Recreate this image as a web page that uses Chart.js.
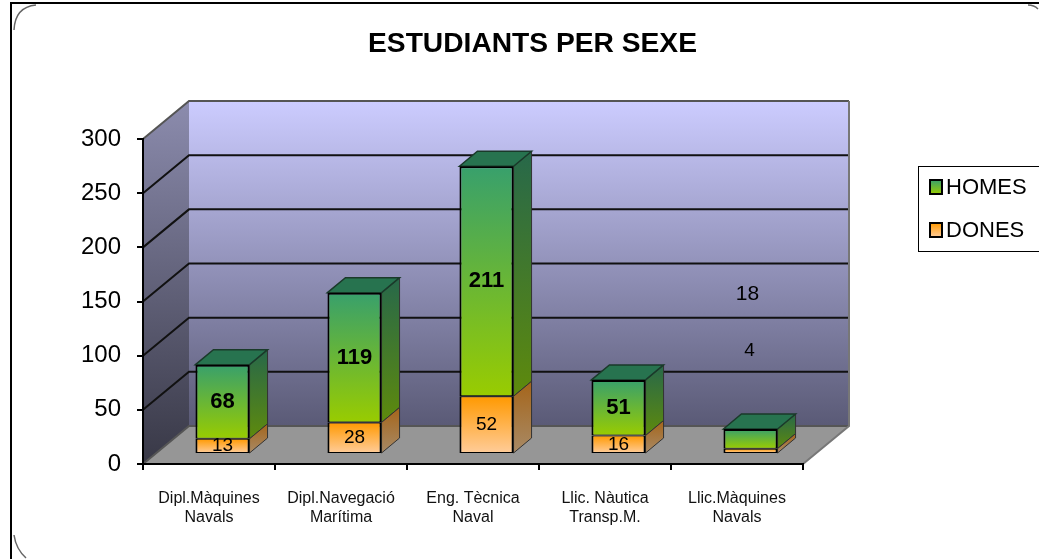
<!DOCTYPE html>
<html>
<head>
<meta charset="utf-8">
<title>Estudiants per sexe</title>
<script src="https://cdn.jsdelivr.net/npm/chart.js@4/dist/chart.umd.min.js"></script>
<style>
  html, body { margin: 0; padding: 0; background: #fff; }
  canvas { display: block; }
</style>
</head>
<body>
<canvas id="chart" width="1039" height="559"></canvas>
<script>
// Chart values
const categories = [
  ['Dipl.Màquines', 'Navals'],
  ['Dipl.Navegació', 'Marítima'],
  ['Eng. Tècnica', 'Naval'],
  ['Llic. Nàutica', 'Transp.M.'],
  ['Llic.Màquines', 'Navals']
];
const homes = [68, 119, 211, 51, 18];
const dones = [13, 28, 52, 16, 4];
const seriesNames = ['HOMES', 'DONES'];
const titleText = 'ESTUDIANTS PER SEXE';

// Fake 3D look
const FONT = '"Liberation Sans", Arial, sans-serif';
const WALL_DX = 46, WALL_DY = 38;     // depth of the whole plot box
const BAR_SHIFT_X = 13.5, BAR_SHIFT_Y = 11;  // bars stand inside the box
const BAR_DX = 18, BAR_DY = 15;       // depth of each bar
const BAR_AXIS_MAX = 298;             // bars sit nearer than the axis plane, so they read slightly taller

// the last category is too short for its labels, they float above it
const labelNudge = {
  HOMES: { 4: [-3, -145] },
  DONES: { 4: [-1, -100] }
};

function vGradient(ctx, y0, y1, top, bottom) {
  const g = ctx.createLinearGradient(0, y0, 0, y1);
  g.addColorStop(0, top);
  g.addColorStop(1, bottom);
  return g;
}

function poly(ctx, pts, fill, stroke, lw) {
  ctx.beginPath();
  pts.forEach((p, i) => i ? ctx.lineTo(p[0], p[1]) : ctx.moveTo(p[0], p[1]));
  ctx.closePath();
  ctx.fillStyle = fill;
  ctx.fill();
  if (stroke) {
    ctx.strokeStyle = stroke;
    ctx.lineWidth = lw;
    ctx.stroke();
  }
}

const frontColors = {
  HOMES: ['#38a06c', '#99cc00'],
  DONES: ['#ff9900', '#ffcc99']
};
const sideColors = {
  HOMES: ['#27684a', '#5e8a0c'],
  DONES: ['#a5651a', '#a88a66']
};

// Page frame with the rounded chart-area corners
const framePlugin = {
  id: 'frame',
  beforeDraw(chart) {
    const ctx = chart.ctx;
    ctx.save();
    ctx.fillStyle = '#000';
    ctx.fillRect(10, 2, 1029, 2);
    ctx.fillRect(10, 2, 2, 557);
    ctx.strokeStyle = '#666';
    ctx.lineWidth = 1.5;
    ctx.beginPath();
    ctx.moveTo(14, 30);
    ctx.quadraticCurveTo(15, 7, 36, 5);
    ctx.moveTo(14, 535);
    ctx.quadraticCurveTo(16, 549, 26, 558);
    ctx.moveTo(1028, 5);
    ctx.quadraticCurveTo(1034, 5, 1038, 9);
    ctx.stroke();
    ctx.restore();
  }
};

// Side wall, back wall and floor, placed from the axis scales
const wallsPlugin = {
  id: 'walls',
  beforeDraw(chart) {
    const ctx = chart.ctx;
    const y = chart.scales.y, x = chart.scales.x;
    const left = x.left, right = x.right;
    const top = y.getPixelForValue(300), bottom = y.getPixelForValue(0);
    const backL = left + WALL_DX, backR = right + WALL_DX;
    const backT = top - WALL_DY, backB = bottom - WALL_DY;
    ctx.save();
    poly(ctx, [[backL, backT], [backR, backT], [backR, backB], [backL, backB]],
      vGradient(ctx, backT, backB, '#ccccff', '#5a5a76'));
    poly(ctx, [[left, top], [backL, backT], [backL, backB], [left, bottom]],
      vGradient(ctx, backT, bottom, '#8c8cae', '#383846'));
    poly(ctx, [[left, bottom], [backL, backB], [backR, backB], [right, bottom]], '#969696');

    y.ticks.forEach(t => {
      const py = y.getPixelForValue(t.value);
      ctx.beginPath();
      ctx.moveTo(left, py);
      ctx.lineTo(backL, py - WALL_DY);
      ctx.lineTo(backR, py - WALL_DY);
      ctx.strokeStyle = t.value === 300 || t.value === 0 ? '#555' : '#111';
      ctx.lineWidth = 2;
      ctx.stroke();
    });
    ctx.beginPath();
    ctx.moveTo(backR, backT);
    ctx.lineTo(backR, backB);
    ctx.lineTo(right, bottom);
    ctx.strokeStyle = '#777';
    ctx.lineWidth = 2;
    ctx.stroke();
    ctx.restore();
  }
};

// Shifts the bars inside the box and adds the side and top faces
const barsPlugin = {
  id: 'bars3d',
  afterLayout(chart) {
    // centre of the title is not the centre of the plot
    chart.titleBlock.left += 131;
    chart.titleBlock.right += 131;
  },
  beforeDatasetDraw(chart, args) {
    const ctx = chart.ctx;
    const name = chart.data.datasets[args.index].label;
    ctx.save();
    ctx.translate(BAR_SHIFT_X, -BAR_SHIFT_Y);
    args.meta.data.forEach(bar => {
      const p = bar.getProps(['x', 'y', 'base', 'width']);
      const r = p.x + p.width / 2;
      const l = p.x - p.width / 2;
      poly(ctx, [[r, p.y], [r + BAR_DX, p.y - BAR_DY], [r + BAR_DX, p.base - BAR_DY], [r, p.base]],
        vGradient(ctx, p.y - BAR_DY, p.base, sideColors[name][0], sideColors[name][1]), '#333', 1);
      if (name === 'HOMES') {
        poly(ctx, [[l, p.y], [l + BAR_DX, p.y - BAR_DY], [r + BAR_DX, p.y - BAR_DY], [r, p.y]],
          '#27734f', '#1a3a2a', 1.5);
      }
    });
  },
  afterDatasetDraw(chart) {
    chart.ctx.restore();
  },
  afterDatasetsDraw(chart) {
    const ctx = chart.ctx;
    ctx.save();
    ctx.textAlign = 'center';
    ctx.textBaseline = 'middle';
    ctx.fillStyle = '#000';
    chart.data.datasets.forEach((ds, di) => {
      chart.getDatasetMeta(di).data.forEach((bar, i) => {
        const p = bar.getProps(['x', 'y', 'base']);
        const nudge = (labelNudge[ds.label] || {})[i] || [0, 0];
        const bold = ds.label === 'HOMES' && i < 4;
        ctx.font = (bold ? 'bold 22px ' : (ds.label === 'HOMES' ? '21px ' : '19px ')) + FONT;
        ctx.fillText(String(ds.data[i]),
          p.x + BAR_SHIFT_X + nudge[0],
          (p.y + p.base) / 2 - BAR_SHIFT_Y + nudge[1]);
      });
    });
    ctx.restore();
  }
};

// Legend box sits away from the plot, so it is drawn here
const legendPlugin = {
  id: 'sideLegend',
  afterDraw(chart) {
    const ctx = chart.ctx;
    ctx.save();
    ctx.strokeStyle = '#000';
    ctx.lineWidth = 1;
    ctx.strokeRect(918.5, 166.5, 130, 85);
    seriesNames.forEach((name, i) => {
      const sy = 180 + i * 43;
      ctx.fillStyle = vGradient(ctx, sy, sy + 14, frontColors[name][0], frontColors[name][1]);
      ctx.fillRect(930, sy, 12, 14);
      ctx.strokeStyle = '#000';
      ctx.lineWidth = 2;
      ctx.strokeRect(930, sy, 12, 14);
      ctx.fillStyle = '#000';
      ctx.font = '22px ' + FONT;
      ctx.textAlign = 'left';
      ctx.textBaseline = 'middle';
      ctx.fillText(name, 946, sy + 8);
    });
    ctx.restore();
  }
};

function barGradient(name) {
  return c => {
    const y = c.chart.scales.yBars;
    const low = name === 'HOMES' ? dones[c.dataIndex] : 0;
    const high = low + (name === 'HOMES' ? homes[c.dataIndex] : dones[c.dataIndex]);
    const y0 = y ? y.getPixelForValue(high) : NaN;
    const y1 = y ? y.getPixelForValue(low) : NaN;
    // options also get resolved before the scales have a size
    if (!Number.isFinite(y0) || !Number.isFinite(y1)) return frontColors[name][0];
    return vGradient(c.chart.ctx, y0, y1, frontColors[name][0], frontColors[name][1]);
  };
}

new Chart(document.getElementById('chart'), {
  type: 'bar',
  data: {
    labels: categories,
    datasets: [
      {
        label: 'DONES', data: dones, yAxisID: 'yBars',
        backgroundColor: barGradient('DONES'),
        borderWidth: { top: 1, left: 2, right: 2, bottom: 1 }
      },
      {
        label: 'HOMES', data: homes, yAxisID: 'yBars',
        backgroundColor: barGradient('HOMES'),
        borderWidth: { top: 2, left: 2, right: 2, bottom: 1 }
      }
    ]
  },
  plugins: [framePlugin, wallsPlugin, barsPlugin, legendPlugin],
  options: {
    responsive: false,
    animation: false,
    layout: { padding: { left: 0, right: 236, top: 0, bottom: 0 } },
    datasets: {
      bar: {
        barPercentage: 0.41,
        categoryPercentage: 1,
        borderColor: '#000',
        borderSkipped: false,
        clip: false
      }
    },
    plugins: {
      legend: { display: false },
      tooltip: { enabled: false },
      title: {
        display: true,
        text: titleText,
        color: '#000',
        font: { family: FONT, size: 28.2, weight: 'bold', lineHeight: 1.2 },
        padding: { top: 27, bottom: 78.2 }
      }
    },
    scales: {
      x: {
        stacked: true,
        afterFit(s) { s.height = 95; },
        grid: { drawOnChartArea: false, color: '#000', lineWidth: 2, tickLength: 6 },
        border: { color: '#000', width: 2 },
        ticks: { color: '#111', maxRotation: 0, padding: 19, font: { family: FONT, size: 16, lineHeight: 1.2 } }
      },
      y: {
        min: 0,
        max: 300,
        afterFit(s) { s.width = 143; },
        grid: { drawOnChartArea: false, color: '#000', lineWidth: 2, tickLength: 6 },
        border: { color: '#000', width: 2 },
        ticks: { color: '#000', stepSize: 50, padding: 16, font: { family: FONT, size: 24 } }
      },
      yBars: {
        stacked: true,
        display: false,
        min: 0,
        max: BAR_AXIS_MAX
      }
    }
  }
});
</script>
</body>
</html>
